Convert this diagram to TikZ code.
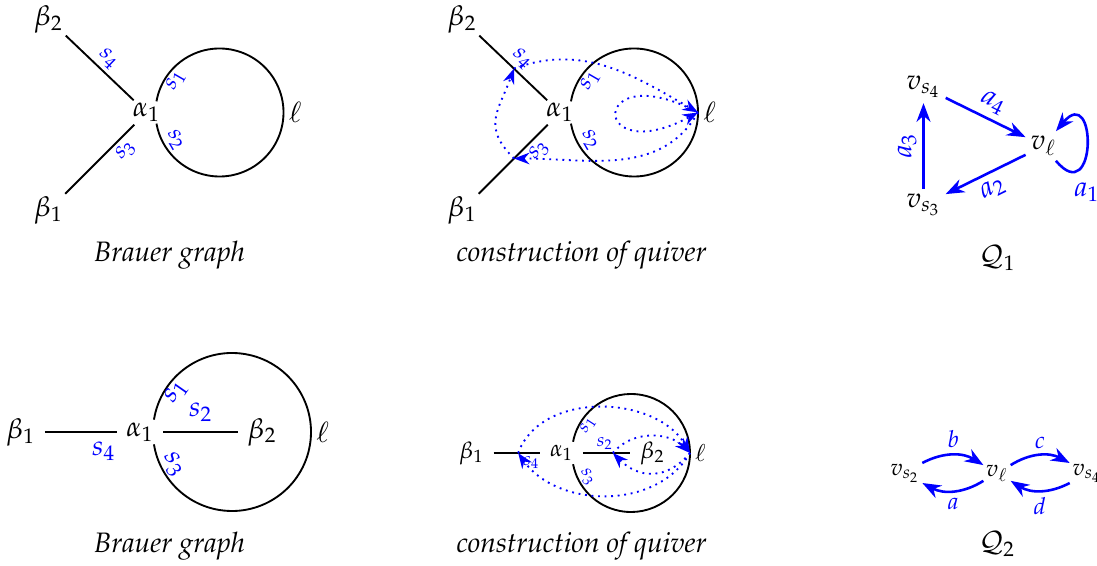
\documentclass[12pt,tikz,border=0pt]{standalone}
\usepackage[T1]{fontenc}
\usepackage{mathpazo}
\usepackage{amsmath,amssymb}
\usetikzlibrary{arrows.meta}

\begin{document}
\begin{tikzpicture}[>=Stealth,
    vert/.style={inner sep=1pt},
    slab/.style={text=blue,font=\footnotesize,inner sep=1.5pt},
    blab/.style={text=blue},
    tlab/.style={text=blue,font=\scriptsize,inner sep=1pt},
    qlab/.style={text=blue,inner sep=2.5pt},
    qarr/.style={->,blue,line width=1.1pt},
    qdot/.style={->,blue,thick,dotted},
    captext/.style={font=\itshape}]
  \useasboundingbox (0,0) rectangle (16.455,8.49);

  % first Brauer graph
  \begin{scope}[shift={(2.1975,6.8025)}]
    \node[vert] (g1a) at (0,0) {$\alpha_1$};
    \node[vert] (g1b2) at (-1.47,1.4) {$\beta_2$};
    \node[vert] (g1b1) at (-1.47,-1.47) {$\beta_1$};
    \coordinate (g1c) at (1.095,0);
    \draw[thick] (g1b2) -- node[slab,sloped,above] {$s_4$} (g1a);
    \draw[thick] (g1b1) -- node[slab,sloped,below,pos=0.75] {$s_3$} (g1a);
    \draw[thick] ([shift={(170:0.96)}]g1c) arc[start angle=170,end angle=-170,radius=0.96];
    \node[right,inner sep=2pt] (g1l) at ([shift={(0:0.96)}]g1c) {$\ell$};
    \node[slab,rotate=60] (g1s1) at ([shift={(144:0.81)}]g1c) {$s_1$};
    \node[slab,rotate=-60] (g1s2) at ([shift={(-148:0.78)}]g1c) {$s_2$};
  \end{scope}

  % construction of the quiver, first example
  \begin{scope}[shift={(8.4,6.8025)}]
    \node[vert] (k1a) at (0,0) {$\alpha_1$};
    \node[vert] (k1b2) at (-1.47,1.4) {$\beta_2$};
    \node[vert] (k1b1) at (-1.47,-1.47) {$\beta_1$};
    \coordinate (k1c) at (1.11,0);
    \draw[thick] (k1b2) -- node[slab,sloped,above] {$s_4$} (k1a);
    \draw[thick] (k1b1) -- node[slab,sloped,below,pos=0.75] {$s_3$} (k1a);
    \draw[thick] ([shift={(170:0.96)}]k1c) arc[start angle=170,end angle=-170,radius=0.96];
    \node[right,inner sep=2pt] (k1l) at ([shift={(0:0.96)}]k1c) {$\ell$};
    \node[slab,rotate=60] (k1s1) at ([shift={(144:0.81)}]k1c) {$s_1$};
    \node[slab,rotate=-60] (k1s2) at ([shift={(-148:0.78)}]k1c) {$s_2$};
    \coordinate (k1p4) at (-0.69,0.66);
    \coordinate (k1p3) at (-0.69,-0.69);
    \coordinate (k1pl) at ([shift={(0:0.96)}]k1c);
    \draw[qdot] (k1p4) to[out=20,in=150] (k1pl);
    \draw[qdot] (k1pl) .. controls +(152:1.85) and +(208:1.85) .. (k1pl);
    \draw[qdot] (k1pl) to[out=240,in=0] (k1p3);
    \draw[qdot] (k1p3) to[out=135,in=-110,looseness=1.3] (k1p4);
  \end{scope}

  % the quiver Q_1
  \begin{scope}[every node/.append style={inner sep=2pt}]
    \node (q1v4) at (13.8525,7.185) {$v_{s_4}$};
    \node (q1vl) at (15.6525,6.3) {$v_\ell$};
    \node (q1v3) at (13.8525,5.415) {$v_{s_3}$};
  \end{scope}
  \draw[qarr] (q1v4) -- node[qlab,sloped,above] {$a_4$} (q1vl);
  \draw[qarr] (q1vl) -- node[qlab,sloped,below] {$a_2$} (q1v3);
  \draw[qarr] (q1v3) -- node[qlab,sloped,above] {$a_3$} (q1v4);
  \draw[qarr] (q1vl) .. controls +(-50:1.25) and +(50:1.25) .. (q1vl)
    node[qlab,pos=0.5,below=0.45cm] {$a_1$};

  % second Brauer graph
  \begin{scope}[shift={(2.1,2.01)}]
    \node (g2a) at (0,0) {$\alpha_1$};
    \node (g2b1) at (-1.79,0) {$\beta_1$};
    \node (g2b2) at (1.83,0) {$\beta_2$};
    \coordinate (g2c) at (1.38,0);
    \draw[thick] (g2b1) -- node[blab,below,pos=0.82] {$s_4$} (g2a);
    \draw[thick] (g2a) -- node[blab,above] {$s_2$} (g2b2);
    \draw[thick] ([shift={(171:1.185)}]g2c) arc[start angle=171,end angle=-171,radius=1.185];
    \node[right,inner sep=2pt] (g2l) at ([shift={(0:1.185)}]g2c) {$\ell$};
    \node[blab,rotate=55,inner sep=0pt] (g2s1) at ([shift={(144.5:1.03)}]g2c) {$s_1$};
    \node[blab,rotate=-60,inner sep=0pt] (g2s3) at ([shift={(-151:1.01)}]g2c) {$s_3$};
  \end{scope}

  % construction of the quiver, second example
  \begin{scope}[shift={(8.4225,1.695)},font=\footnotesize]
    \node (k2a) at (0,0) {$\alpha_1$};
    \node (k2b1) at (-1.35,0) {$\beta_1$};
    \node (k2b2) at (1.365,0) {$\beta_2$};
    \coordinate (k2c) at (1.0425,0);
    \draw[thick] (k2b1) -- node[tlab,below,pos=0.81] {$s_4$} (k2a);
    \draw[thick] (k2a) -- node[tlab,above,pos=0.46] {$s_2$} (k2b2);
    \draw[thick] ([shift={(169:0.885)}]k2c) arc[start angle=169,end angle=-169,radius=0.885];
    \node[right,inner sep=2pt] (k2l) at ([shift={(0:0.885)}]k2c) {$\ell$};
    \node[tlab,rotate=57] (k2s1) at ([shift={(147:0.77)}]k2c) {$s_1$};
    \node[tlab,rotate=-60] (k2s3) at ([shift={(-151:0.75)}]k2c) {$s_3$};
    \coordinate (k2p4) at (-0.65,0);
    \coordinate (k2p2) at (0.77,0);
    \coordinate (k2pl) at ([shift={(0:0.885)}]k2c);
    \draw[qdot] (k2p4) to[out=70,in=120] (k2pl);
    \draw[qdot] (k2pl) to[out=240,in=-55] (k2p4);
    \draw[qdot] (k2p2) to[out=50,in=135] (k2pl);
    \draw[qdot] (k2pl) to[out=230,in=-45,looseness=1.2] (k2p2);
  \end{scope}

  % the quiver Q_2
  \begin{scope}[font=\footnotesize]
    \node[inner sep=1pt] (q2v2) at (13.575,1.395) {$v_{s_2}$};
    \node[inner sep=1pt] (q2vl) at (14.955,1.395) {$v_\ell$};
    \node[inner sep=1pt] (q2v4) at (16.305,1.395) {$v_{s_4}$};
    \draw[qarr] (q2v2) to[bend left=30] node[qlab,above] {$b$} (q2vl);
    \draw[qarr] (q2vl) to[bend left=30] node[qlab,below] {$a$} (q2v2);
    \draw[qarr] (q2vl) to[bend left=30] node[qlab,above] {$c$} (q2v4);
    \draw[qarr] (q2v4) to[bend left=30] node[qlab,below] {$d$} (q2vl);
  \end{scope}

  % captions
  \node[captext] (cap1) at (2.5425,4.6575) {Brauer graph};
  \node[captext] (cap2) at (8.7225,4.6575) {construction of quiver};
  \node (q1) at (14.9625,4.62) {$\mathcal{Q}_1$};
  \node[captext] (cap3) at (2.5425,0.2925) {Brauer graph};
  \node[captext] (cap4) at (8.7225,0.2925) {construction of quiver};
  \node (q2) at (14.955,0.33) {$\mathcal{Q}_2$};
\end{tikzpicture}
\end{document}
